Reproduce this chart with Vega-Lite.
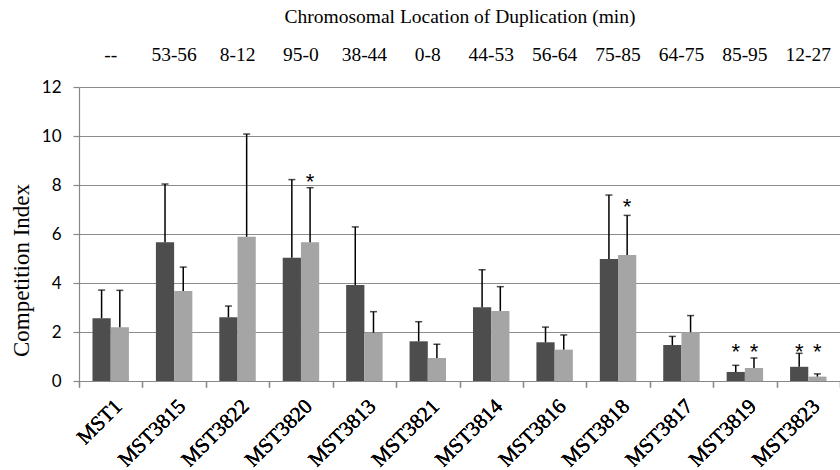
{
  "$schema": "https://vega.github.io/schema/vega-lite/v6.json",
  "autosize": {"type": "none"},
  "padding": {"left": 79, "top": 87, "right": 0, "bottom": 89},
  "width": 761,
  "height": 294,
  "background": "white",
  "config": {
    "view": {"stroke": null},
    "axisY": {
      "labelFont": "Lato", "labelFontSize": 17, "labelColor": "black", "labelPadding": 12,
      "tickSize": 6, "tickColor": "#888888", "tickWidth": 1.2,
      "domainColor": "#888888", "domainWidth": 1.2,
      "grid": true, "gridColor": "#8c8c8c", "gridWidth": 1.2,
      "titleFont": "Liberation Serif", "titleFontSize": 23, "titleFontWeight": "normal", "titleColor": "black", "titlePadding": 8
    },
    "axisBottom": {
      "labelFont": "Liberation Serif", "labelFontSize": 21, "labelColor": "black",
      "tickBand": "extent", "ticks": true, "tickSize": 6, "tickColor": "#888888", "tickWidth": 1.2,
      "domainColor": "#888888", "domainWidth": 1.2, "grid": false
    },
    "axisTop": {
      "domain": false, "ticks": false, "grid": false, "labelAngle": 0,
      "labelFont": "Liberation Serif", "labelFontSize": 19.5, "labelColor": "black", "labelPadding": 23,
      "titleFont": "Liberation Serif", "titleFontSize": 19.5, "titleFontWeight": "normal", "titleColor": "black", "titlePadding": 18
    }
  },
  "data": {
    "values": [
      {"strain": "MST1", "loc": "--", "group": "A", "value": 2.56, "upper": 3.71},
      {"strain": "MST1", "loc": "--", "group": "B", "value": 2.19, "upper": 3.70},
      {"strain": "MST3815", "loc": "53-56", "group": "A", "value": 5.66, "upper": 8.04},
      {"strain": "MST3815", "loc": "53-56", "group": "B", "value": 3.67, "upper": 4.65},
      {"strain": "MST3822", "loc": "8-12", "group": "A", "value": 2.60, "upper": 3.06},
      {"strain": "MST3822", "loc": "8-12", "group": "B", "value": 5.89, "upper": 10.08},
      {"strain": "MST3820", "loc": "95-0", "group": "A", "value": 5.03, "upper": 8.22},
      {"strain": "MST3820", "loc": "95-0", "group": "B", "value": 5.66, "upper": 7.89, "star_y": 8.33},
      {"strain": "MST3813", "loc": "38-44", "group": "A", "value": 3.92, "upper": 6.29},
      {"strain": "MST3813", "loc": "38-44", "group": "B", "value": 1.97, "upper": 2.83},
      {"strain": "MST3821", "loc": "0-8", "group": "A", "value": 1.62, "upper": 2.42},
      {"strain": "MST3821", "loc": "0-8", "group": "B", "value": 0.94, "upper": 1.50},
      {"strain": "MST3814", "loc": "44-53", "group": "A", "value": 3.01, "upper": 4.54},
      {"strain": "MST3814", "loc": "44-53", "group": "B", "value": 2.86, "upper": 3.85},
      {"strain": "MST3816", "loc": "56-64", "group": "A", "value": 1.58, "upper": 2.20},
      {"strain": "MST3816", "loc": "56-64", "group": "B", "value": 1.28, "upper": 1.88},
      {"strain": "MST3818", "loc": "75-85", "group": "A", "value": 4.98, "upper": 7.59},
      {"strain": "MST3818", "loc": "75-85", "group": "B", "value": 5.14, "upper": 6.76, "star_y": 7.30},
      {"strain": "MST3817", "loc": "64-75", "group": "A", "value": 1.47, "upper": 1.82},
      {"strain": "MST3817", "loc": "64-75", "group": "B", "value": 1.99, "upper": 2.67},
      {"strain": "MST3819", "loc": "85-95", "group": "A", "value": 0.37, "upper": 0.64, "star_y": 1.40},
      {"strain": "MST3819", "loc": "85-95", "group": "B", "value": 0.53, "upper": 0.94, "star_y": 1.40},
      {"strain": "MST3823", "loc": "12-27", "group": "A", "value": 0.58, "upper": 1.13, "star_y": 1.40},
      {"strain": "MST3823", "loc": "12-27", "group": "B", "value": 0.18, "upper": 0.29, "star_y": 1.40}
    ]
  },
  "resolve": {"axis": {"x": "independent"}},
  "layer": [
    {
      "mark": {"type": "bar"},
      "encoding": {
        "x": {
          "field": "strain", "type": "nominal", "sort": null,
          "scale": {"paddingInner": 0, "paddingOuter": 0},
          "axis": {"orient": "bottom", "title": null, "labelAngle": -45, "labelAlign": "right", "labelBaseline": "top", "labelPadding": 8}
        },
        "xOffset": {"field": "group", "type": "nominal", "scale": {"paddingInner": 0, "paddingOuter": 0.74}},
        "y": {
          "field": "value", "type": "quantitative",
          "scale": {"domain": [0, 12], "nice": false},
          "axis": {"title": "Competition Index", "values": [0, 2, 4, 6, 8, 10, 12], "titleY": 183}
        },
        "color": {"field": "group", "type": "nominal", "scale": {"domain": ["A", "B"], "range": ["#4d4d4d", "#a5a5a5"]}, "legend": null}
      }
    },
    {
      "mark": {"type": "rule", "color": "black", "strokeWidth": 1.5},
      "encoding": {
        "x": {
          "field": "strain", "type": "nominal", "sort": null,
          "axis": {
            "orient": "top",
            "labelExpr": "['--','53-56','8-12','95-0','38-44','0-8','44-53','56-64','75-85','64-75','85-95','12-27'][indexof(['MST1','MST3815','MST3822','MST3820','MST3813','MST3821','MST3814','MST3816','MST3818','MST3817','MST3819','MST3823'], datum.value)]",
            "title": "Chromosomal Location of Duplication (min)"
          }
        },
        "xOffset": {"field": "group", "type": "nominal"},
        "y": {"field": "value", "type": "quantitative", "axis": {"title": "Competition Index", "values": [0, 2, 4, 6, 8, 10, 12], "titleY": 183}},
        "y2": {"field": "upper"}
      }
    },
    {
      "mark": {"type": "tick", "color": "black", "thickness": 1.5, "size": 7},
      "encoding": {
        "x": {"field": "strain", "type": "nominal", "sort": null, "axis": {"orient": "bottom", "title": null, "labelAngle": -45, "labelAlign": "right", "labelBaseline": "top", "labelPadding": 8}},
        "xOffset": {"field": "group", "type": "nominal"},
        "y": {"field": "upper", "type": "quantitative", "axis": {"title": "Competition Index", "values": [0, 2, 4, 6, 8, 10, 12], "titleY": 183}}
      }
    },
    {
      "transform": [{"filter": "isValid(datum.star_y)"}],
      "mark": {"type": "text", "text": "*", "font": "Liberation Sans", "fontSize": 22, "color": "black", "baseline": "middle", "dy": 5},
      "encoding": {
        "x": {"field": "strain", "type": "nominal", "sort": null, "axis": {"orient": "bottom", "title": null, "labelAngle": -45, "labelAlign": "right", "labelBaseline": "top", "labelPadding": 8}},
        "xOffset": {"field": "group", "type": "nominal"},
        "y": {"field": "star_y", "type": "quantitative", "axis": {"title": "Competition Index", "values": [0, 2, 4, 6, 8, 10, 12], "titleY": 183}}
      }
    }
  ]
}
